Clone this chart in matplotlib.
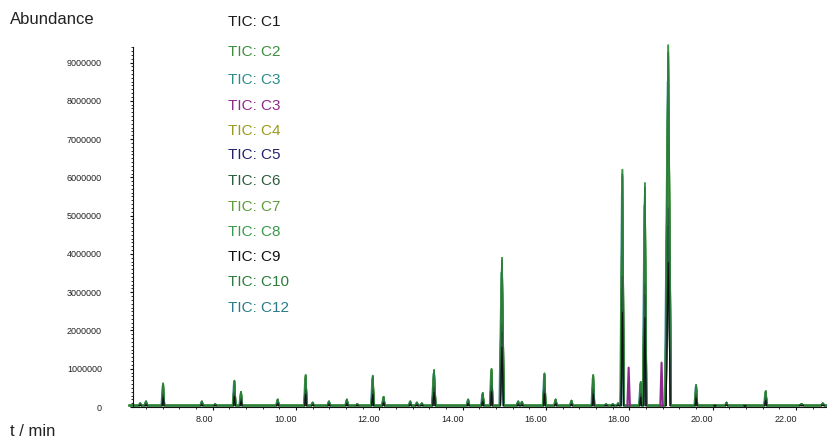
import numpy as np
import matplotlib.pyplot as plt
from matplotlib.ticker import MultipleLocator, FixedLocator
from matplotlib.transforms import ScaledTranslation

plt.rcParams['font.family'] = ['Liberation Sans', 'DejaVu Sans']

# peak table shared by the samples: retention time (min), apex abundance, half width (min)
peak_times = [6.26, 6.40, 6.81, 7.74, 8.06, 8.52, 8.68, 9.56, 10.23, 10.40,
              10.79, 11.22, 11.47, 11.84, 12.10, 12.74, 12.90, 13.02, 13.31, 14.13,
              14.48, 14.69, 14.94, 15.33, 15.42, 15.96, 16.23, 16.61, 17.13, 17.44,
              17.60, 17.73, 17.83, 18.27, 18.37, 18.93, 19.60, 20.05, 20.33, 20.77,
              21.27, 22.13, 22.64]
peak_heights = [100000, 150000, 620000, 150000, 80000, 690000, 400000, 200000, 840000, 120000,
                150000, 200000, 80000, 820000, 270000, 150000, 120000, 100000, 970000, 200000,
                370000, 1000000, 3900000, 150000, 140000, 880000, 200000, 170000, 840000, 80000,
                80000, 100000, 6200000, 660000, 5850000, 9450000, 580000, 50000, 120000, 40000,
                420000, 80000, 100000]
peak_widths = [0.03, 0.03, 0.03, 0.03, 0.03, 0.03, 0.03, 0.03, 0.03, 0.03,
               0.03, 0.03, 0.03, 0.03, 0.03, 0.03, 0.03, 0.03, 0.04, 0.03,
               0.03, 0.03, 0.05, 0.03, 0.03, 0.03, 0.03, 0.03, 0.03, 0.03,
               0.03, 0.03, 0.04, 0.03, 0.04, 0.07, 0.03, 0.03, 0.03, 0.03,
               0.03, 0.06, 0.04]

# second C3 run: only the two extra peaks
c3b_times = [17.98, 18.77]
c3b_heights = [1030000, 1160000]
c3b_widths = [0.03, 0.03]

baseline = 40000

labels = ['TIC: C1', 'TIC: C2', 'TIC: C3', 'TIC: C3', 'TIC: C4', 'TIC: C5',
          'TIC: C6', 'TIC: C7', 'TIC: C8', 'TIC: C9', 'TIC: C10', 'TIC: C12']
colors = ['#1a1a1a', '#3d8f3d', '#2e8c8c', '#8e2a8e', '#9a9a1e', '#23236e',
          '#2c5c3c', '#5e9c3c', '#3a9a4a', '#111111', '#2a7d3c', '#2a7c8a']
response = [0.5, 1.0, 0.9, None, 0.97, 0.45, 0.55, 0.97, 1.0, 0.4, 0.98, 0.88]
shifts = [0.0, 0.0, -0.015, 0.0, 0.0, 0.0, 0.0, 0.0, 0.0, 0.0, 0.0, 0.0]
dark = [True, False, False, False, False, True, True, False, False, True, False, False]
layer = [3, 2, 1.8, 2.5, 1.9, 3, 3, 2, 2, 3, 2, 1.8]


def trace(times, heights, widths, scale=1.0, shift=0.0, t0=6.0, t1=23.0):
    xs, ys = [t0], [baseline]
    for t, h, w in zip(times, heights, widths):
        xs += [t + shift - w, t + shift, t + shift + w]
        ys += [baseline, h * scale, baseline]
    xs.append(t1)
    ys.append(baseline)
    return np.array(xs), np.array(ys)


def spikes(times, heights, widths, scale=1.0):
    # peaks only, no baseline between them
    xs, ys = [], []
    for t, h, w in zip(times, heights, widths):
        xs += [t - w, t, t + w, np.nan]
        ys += [baseline, h * scale, baseline, np.nan]
    return np.array(xs), np.array(ys)


fig = plt.figure(figsize=(8.27, 4.41), dpi=100)
ax = fig.add_axes([0.161, 0.077, 0.839, 0.816])

for i, lab in enumerate(labels):
    if response[i] is None:
        x, y = spikes(c3b_times, c3b_heights, c3b_widths)
        ax.plot(x, y, color=colors[i], lw=1.5, zorder=layer[i], clip_on=False)
    elif dark[i]:
        x, y = spikes(peak_times, peak_heights, [w * 0.7 for w in peak_widths], response[i])
        ax.plot(x, y, color=colors[i], lw=0.8, zorder=layer[i], clip_on=False)
    else:
        x, y = trace(peak_times, peak_heights, peak_widths, response[i], shifts[i])
        ax.plot(x, y, color=colors[i], lw=1.2, zorder=layer[i], clip_on=False)

# legend as a column of coloured labels
label_y = [22, 52, 80, 106, 131, 155, 181, 207, 232, 257, 282, 308]
for lab, col, yy in zip(labels, colors, label_y):
    fig.text(228 / 827, 1 - yy / 441, lab, color=col, fontsize=11, va='center', ha='left')

fig.text(10 / 827, 1 - 20 / 441, 'Abundance', fontsize=12, va='center', ha='left', color='#222222')
fig.text(10 / 827, 1 - 432 / 441, 't / min', fontsize=12, va='center', ha='left', color='#222222')

ax.set_xlim(6.09, 22.74)
ax.set_ylim(0, 9400000)

ax.spines['top'].set_visible(False)
ax.spines['right'].set_visible(False)
for s in ['left', 'bottom']:
    ax.spines[s].set_linewidth(0.8)
    ax.spines[s].set_color('#111111')

xticks = [8, 10, 12, 14, 16, 18, 20, 22]
ax.xaxis.set_major_locator(FixedLocator(xticks))
ax.xaxis.set_minor_locator(MultipleLocator(0.4))
ax.set_xticklabels([f'{t:.2f}' for t in xticks])
yticks = [0, 1000000, 2000000, 3000000, 4000000, 5000000, 6000000, 7000000, 8000000, 9000000]
ax.yaxis.set_major_locator(FixedLocator(yticks))
ax.yaxis.set_minor_locator(MultipleLocator(100000))
ax.set_yticklabels([str(v) for v in yticks])

ax.tick_params(axis='both', which='major', labelsize=6.5, length=2.5, width=0.8, color='#111111', labelcolor='#222222')
ax.tick_params(axis='both', which='minor', length=1.5, width=0.6, color='#111111')
ax.tick_params(axis='y', which='major', pad=20)
ax.tick_params(axis='x', which='major', pad=3)

offset = ScaledTranslation(0.5 / 72, 0, fig.dpi_scale_trans)
for lbl in ax.get_xticklabels():
    lbl.set_ha('right')
    lbl.set_transform(lbl.get_transform() + offset)

fig.savefig('out.png', dpi=100)
